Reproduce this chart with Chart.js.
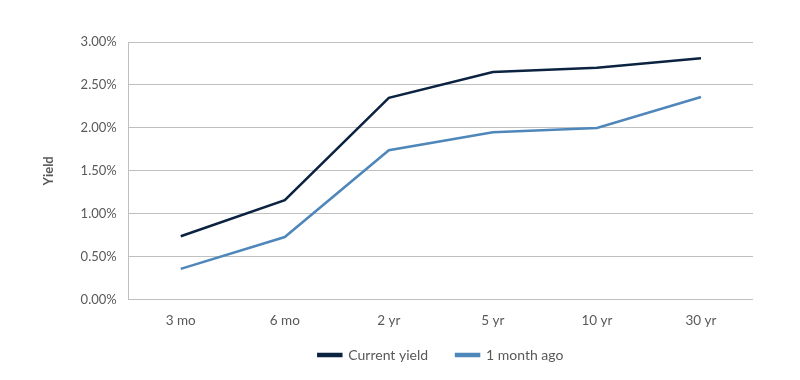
<!DOCTYPE html>
<html><head><meta charset="utf-8">
<script src="https://cdn.jsdelivr.net/npm/chart.js@4"></script>
<style>html,body{margin:0;padding:0;background:#fff}#w{width:800px;height:380px}</style>
</head><body><div id="w"><canvas id="c" width="800" height="380"></canvas></div>
<script>
const categories = ["3 mo", "6 mo", "2 yr", "5 yr", "10 yr", "30 yr"];
const currentYield = [0.74, 1.16, 2.35, 2.65, 2.70, 2.81];
const monthAgo = [0.36, 0.73, 1.74, 1.95, 2.00, 2.36];
const seriesNames = ["Current yield", "1 month ago"];
const yTicks = [0, 0.5, 1, 1.5, 2, 2.5, 3];
const FONT = "Lato";
const LEGEND_GAP = 28;
const legendTweak = {
  id: 'legendTweak',
  beforeLayout(chart) {
    const lg = chart.legend;
    if (lg && !lg._wrapped) {
      const orig = lg.fit;
      lg.fit = function () { orig.call(this); this.height = 27; };
      lg._wrapped = true;
    }
  },
  afterLayout(chart) {
    const lg = chart.legend, ca = chart.chartArea;
    const shift = (ca.left + ca.right) / 2 - (lg.left + lg.right) / 2;
    lg.left += shift; lg.right += shift;
    lg.top -= 22;
  }
};
new Chart(document.getElementById('c'), {
  type: 'line',
  data: { labels: categories, datasets: [
    { label: seriesNames[0], data: currentYield, borderColor: '#0b2340', backgroundColor: '#0b2340', borderWidth: 2.5, pointRadius: 0, tension: 0 },
    { label: seriesNames[1], data: monthAgo, borderColor: '#4f87ba', backgroundColor: '#4f87ba', borderWidth: 2.5, pointRadius: 0, tension: 0 }
  ]},
  options: {
    responsive: false, animation: false,
    layout: { padding: { left: 37, right: 47, top: 42, bottom: 11 } },
    plugins: {
      legend: { position: 'bottom', labels: { boxWidth: 23, boxHeight: 2, color: '#595959', font: { family: FONT, size: 14 }, padding: LEGEND_GAP } },
      tooltip: { enabled: false }
    },
    scales: {
      x: { offset: true, grid: { display: false, drawTicks: false }, border: { display: false },
           ticks: { color: '#595959', font: { family: FONT, size: 13.5 }, padding: 13 } },
      y: { min: 0, max: 3, afterBuildTicks: a => { a.ticks = yTicks.map(v => ({ value: v })); },
           grid: { color: '#bfbfbf', drawTicks: false, lineWidth: 1 },
           border: { display: true, color: '#bfbfbf' },
           title: { display: true, text: 'Yield', color: '#595959', font: { family: FONT, size: 13, weight: 'bold' }, padding: { bottom: 12 } },
           ticks: { color: '#595959', font: { family: FONT, size: 13 }, padding: 12, callback: v => v.toFixed(2) + '%' } }
    }
  },
  plugins: [legendTweak]
});
</script></body></html>
